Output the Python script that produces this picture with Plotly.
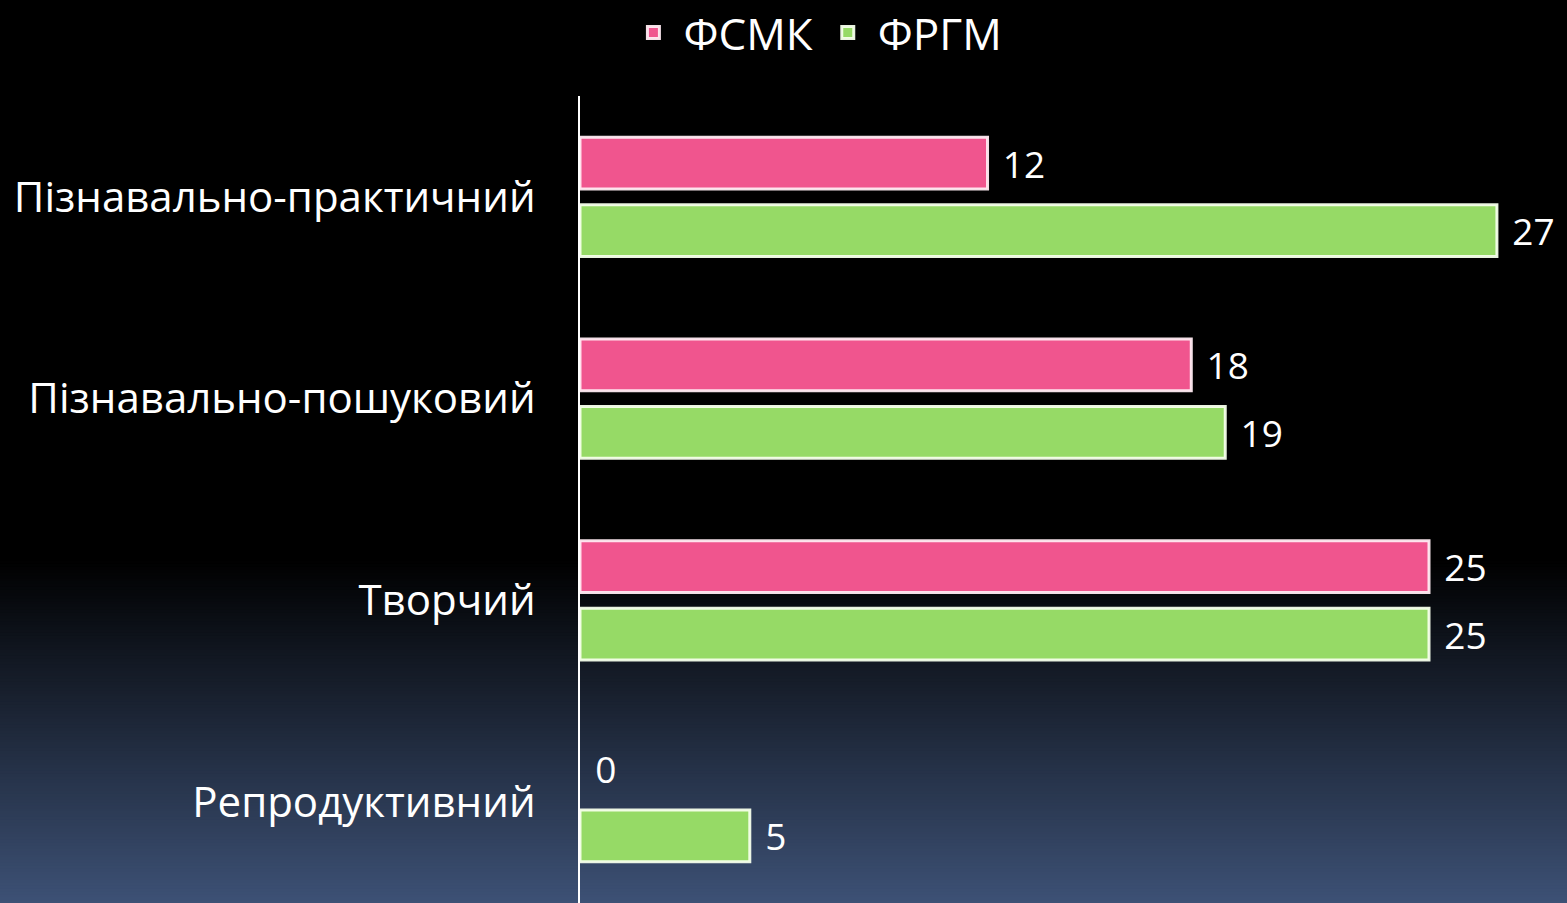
import plotly.graph_objects as go

categories = ["Пізнавально-практичний", "Пізнавально-пошуковий", "Творчий", "Репродуктивний"]
fsmk = [12, 18, 25, 0]
frgm = [27, 19, 25, 5]
series_names = ["ФСМК", "ФРГМ"]

W, H = 1567, 903
L, R, T, B = 580, 2, 96, 0

font_family = "Open Sans, Noto Sans, DejaVu Sans, sans-serif"
pad = "\u2004"

def line_widths(vals):
    return [0 if v == 0 else 3 for v in vals]

fig = go.Figure()
fig.add_trace(go.Bar(
    y=categories, x=fsmk, name=series_names[0], orientation="h",
    marker=dict(color="#F0558E", line=dict(color="rgba(255,235,242,0.95)", width=line_widths(fsmk))),
    text=[pad + str(v) for v in fsmk], textposition="outside",
    textfont=dict(color="white", size=37, family=font_family),
    cliponaxis=False,
))
fig.add_trace(go.Bar(
    y=categories, x=frgm, name=series_names[1], orientation="h",
    marker=dict(color="#96DA66", line=dict(color="rgba(245,255,235,0.95)", width=line_widths(frgm))),
    text=[pad + str(v) for v in frgm], textposition="outside",
    textfont=dict(color="white", size=37, family=font_family),
    cliponaxis=False,
))

# background gradient (black -> dark blue) built from strips
shapes = []
top_px, bot_px = 558, 903
n = 120
c0 = (0, 0, 0)
c1 = (61, 81, 117)
pw = W - L - R
ph = H - T - B
for i in range(n):
    y0 = top_px + (bot_px - top_px) * i / n
    y1 = top_px + (bot_px - top_px) * (i + 1) / n + 1.0
    f = (i + 0.5) / n
    col = tuple(int(round(c0[k] + (c1[k] - c0[k]) * f)) for k in range(3))
    shapes.append(dict(
        type="rect", xref="paper", yref="paper", layer="below",
        x0=-L / pw - 0.01, x1=1 + R / pw + 0.01,
        y0=1 - (y1 - T) / ph, y1=1 - (y0 - T) / ph,
        fillcolor="rgb(%d,%d,%d)" % col, line=dict(width=0),
    ))

fig.update_layout(
    width=W, height=H,
    margin=dict(l=L, r=R, t=T, b=B),
    paper_bgcolor="black", plot_bgcolor="rgba(0,0,0,0)",
    barmode="group", bargap=0.33, bargroupgap=0.236,
    font=dict(family=font_family, color="white"),
    showlegend=True,
    legend=dict(orientation="h", x=0.239, xanchor="center", yref="container",
                y=1 - 33 / H, yanchor="middle", font=dict(size=44, color="white"),
                itemwidth=50,
                bgcolor="rgba(0,0,0,0)", traceorder="normal"),
    shapes=shapes,
)
fig.update_xaxes(range=[0, pw / 33.96], showgrid=False, zeroline=False,
                 showticklabels=False, showline=False)
fig.update_yaxes(autorange="reversed", showgrid=False, zeroline=False,
                 showline=True, linecolor="white", linewidth=2,
                 ticks="outside", ticklen=34, tickcolor="rgba(0,0,0,0)",
                 tickfont=dict(size=42, color="white", family=font_family))

fig.write_html("out.html",
               config={"displayModeBar": False},
               post_script="document.body.style.margin='0';document.body.style.background='black';")
